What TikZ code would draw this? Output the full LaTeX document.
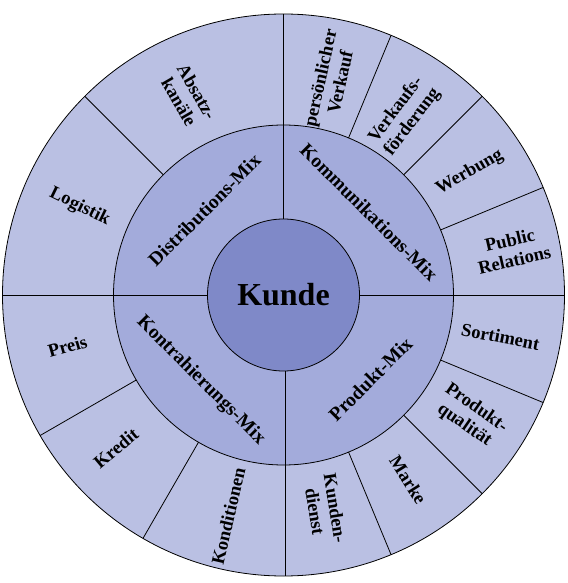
\documentclass[tikz,border=0pt]{standalone}
\usepackage{fontspec}
\setmainfont{Liberation Serif}
\definecolor{outerc}{RGB}{186,192,227}
\definecolor{midc}{RGB}{163,171,219}
\definecolor{innerc}{RGB}{127,137,200}
\begin{document}
\begin{tikzpicture}[x=1pt,y=1pt,
  ring/.style={draw=black, line width=0.8pt},
  divider/.style={draw=black, line width=0.8pt},
  lbl/.style={font=\fontsize{18.5}{20.5}\selectfont\bfseries, align=center, inner sep=0pt},
  midlbl/.style={font=\fontsize{19.5}{21}\selectfont\bfseries, inner sep=0pt}]
\fill[white] (-283.5,-288) rectangle (283.5,295);
\useasboundingbox (-283.5,-288) rectangle (283.5,295);
% rings
\draw[ring, fill=outerc] (0,0) circle (281);
\draw[ring, fill=midc] (0,0) circle (170);
% quadrant dividers
\draw[divider] (-281,0) -- (-76,0);
\draw[divider] (76,0) -- (281,0);
\draw[divider] (0,76) -- (0,281);
\draw[divider] (2,-76) -- (2,-281);
\draw[ring, fill=innerc] (0,0) circle (76);
% outer ring dividers
\foreach \a in {135,67.5,45,22.5,-22.5,-45,-67.5,210,240}
  \draw[divider] (\a:170) -- (\a:281);
% centre
\node[font=\fontsize{32}{36}\selectfont\bfseries, inner sep=0pt] (kunde) at (0,0) {Kunde};
% middle ring
\node[midlbl, rotate=45] (dist) at (133:116) {Distributions-Mix};
\node[midlbl, rotate=-45] (komm) at (44:119) {Kommunikations-Mix};
\node[midlbl, rotate=-45] (kontr) at (226:119) {Kontrahierungs-Mix};
\node[midlbl, rotate=45] (prod) at (-44:121) {Produkt-Mix};
% outer ring
\node[lbl, rotate=-60] (absatz) at (115.7:220) {Absatz-\\kanäle};
\node[lbl, rotate=-26] (logistik) at (156.6:222) {Logistik};
\node[lbl, rotate=77.5] (pers) at (77.8:220) {persönlicher\\Verkauf};
\node[lbl, rotate=53] (vkf) at (56:216) {Verkaufs-\\förderung};
\node[lbl, rotate=30] (werbung) at (33.4:223) {Werbung};
\node[lbl, rotate=13] (pr) at (11.1:233) {Public\\Relations};
\node[lbl, rotate=-11] (sort) at (-10.9:221) {Sortiment};
\node[lbl, rotate=-35] (pq) at (-33.1:223) {Produkt-\\qualität};
\node[lbl, rotate=-58] (marke) at (-56:223) {Marke};
\node[lbl, rotate=-81] (kd) at (-79:219) {Kunden-\\dienst};
\node[lbl, rotate=77] (kond) at (256:228) {Konditionen};
\node[lbl, rotate=40] (kredit) at (222.4:227) {Kredit};
\node[lbl, rotate=16] (preis) at (193.4:222) {Preis};
\end{tikzpicture}
\end{document}
